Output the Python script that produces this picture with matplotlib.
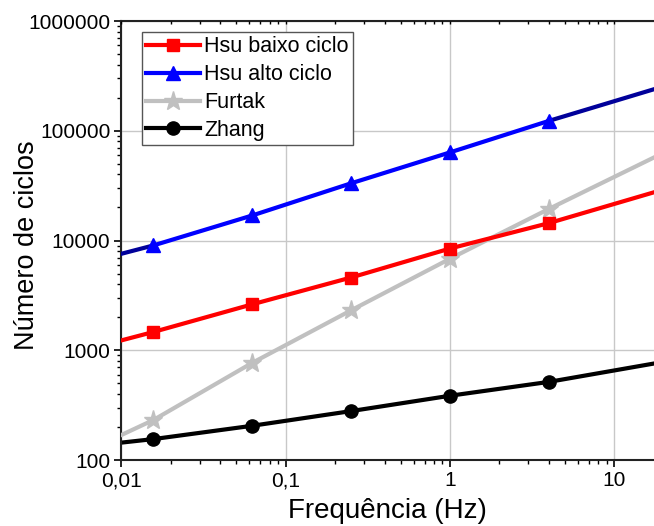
import matplotlib
matplotlib.use("Agg")
import matplotlib.pyplot as plt
from matplotlib.ticker import LogLocator, NullFormatter

plt.rcParams["font.family"] = ["Liberation Sans", "DejaVu Sans"]

# frequências ensaiadas (Hz) e extremos das curvas ajustadas
freq_pts = [1/64, 1/16, 1/4, 1, 4]
freq_min = 0.01
freq_max = 17.45

# número de ciclos: [f=0.01] + pontos + [f=freq_max]
hsu_baixo = [1230, 1466, 2620, 4600, 8450, 14400, 27500]
hsu_alto = [7570, 9010, 16900, 33200, 63500, 123000, 239000]
furtak = [169, 231, 767, 2310, 6820, 19400, 57100]
zhang = [144, 155, 205, 279, 385, 515, 757]

x_ticks = [0.01, 0.1, 1, 10]
x_labels = ["0,01", "0,1", "1", "10"]
y_ticks = [100, 1000, 10000, 100000, 1000000]
y_labels = ["100", "1000", "10000", "100000", "1000000"]

freq_line = [freq_min] + freq_pts + [freq_max]

fig = plt.figure(figsize=(6.54, 5.26), dpi=100)
ax = fig.add_axes([121.4/654, 1 - 460/526, (654 - 121.4)/654, 439/526])
ax.set_xscale("log")
ax.set_yscale("log")

lw = 3.0
series = [
    ("Hsu baixo ciclo", hsu_baixo, "#ff0000", "s", 8.6, None, 4),
    ("Hsu alto ciclo", hsu_alto, "#0000ff", "^", 10.5, "#00009a", 5),
    ("Furtak", furtak, "#c0c0c0", "*", 14, None, 3),
    ("Zhang", zhang, "#000000", "o", 9.5, None, 2),
]
handles = []
for name, vals, cor, mk, ms, cor_ext, z in series:
    if cor_ext is None:
        ax.plot(freq_line, vals, color=cor, lw=lw, zorder=z)
    else:
        # trechos extrapolados em tom mais escuro
        ax.plot(freq_line[1:-1], vals[1:-1], color=cor, lw=lw, zorder=z)
        ax.plot(freq_line[:2], vals[:2], color=cor_ext, lw=lw, zorder=z + 0.1)
        ax.plot(freq_line[-2:], vals[-2:], color=cor_ext, lw=lw, zorder=z + 0.1)
    ax.plot(freq_pts, vals[1:-1], color=cor, marker=mk, ms=ms,
            mec=cor, mfc=cor, linestyle="none", zorder=z + 0.5)
    handles.append(plt.Line2D([], [], color=cor, lw=lw, marker=mk, ms=ms,
                              mec=cor, mfc=cor))

ax.set_xlim(freq_min, freq_max)
ax.set_ylim(100, 1000000)

ax.set_xticks(x_ticks)
ax.set_xticklabels(x_labels)
ax.set_yticks(y_ticks)
ax.set_yticklabels(y_labels)
ax.xaxis.set_minor_locator(LogLocator(base=10, subs=range(2, 10), numticks=20))
ax.yaxis.set_minor_locator(LogLocator(base=10, subs=range(2, 10), numticks=20))
ax.xaxis.set_minor_formatter(NullFormatter())
ax.yaxis.set_minor_formatter(NullFormatter())

ax.tick_params(which="major", direction="out", length=5, width=1.2,
               labelsize=15, pad=3, colors="#000000")
ax.tick_params(which="minor", direction="out", length=3, width=1.0)

# marcas curtas no eixo superior, sem rótulos
ax_top = ax.twiny()
ax_top.set_xscale("log")
ax_top.set_xlim(freq_min, freq_max)
ax_top.xaxis.set_minor_locator(LogLocator(base=10, subs=range(2, 10), numticks=20))
ax_top.tick_params(which="both", direction="in", length=2.5, width=1.0,
                   labeltop=False)
for s in ax_top.spines.values():
    s.set_visible(False)

ax.grid(True, which="major", color="#c8c8c8", lw=1.0, zorder=0)
ax.set_axisbelow(True)

for s in ["left", "bottom", "top"]:
    ax.spines[s].set_linewidth(1.5)
    ax.spines[s].set_color("#222222")
ax.spines["right"].set_visible(False)

ax.set_xlabel("Frequência (Hz)", fontsize=20, labelpad=6)
ax.set_ylabel("Número de ciclos", fontsize=19.5)
ax.yaxis.set_label_coords(-0.153, 0.49)

leg = ax.legend(handles, [s[0] for s in series], loc="upper left",
                bbox_to_anchor=(0.0387, 0.975), borderaxespad=0,
                fontsize=15.5, frameon=True, fancybox=False, framealpha=1,
                edgecolor="#555555", handlelength=2.5, handletextpad=0.2,
                labelspacing=0.32, borderpad=0.2)
leg.get_frame().set_linewidth(1.0)

fig.savefig("out.png", dpi=100)
